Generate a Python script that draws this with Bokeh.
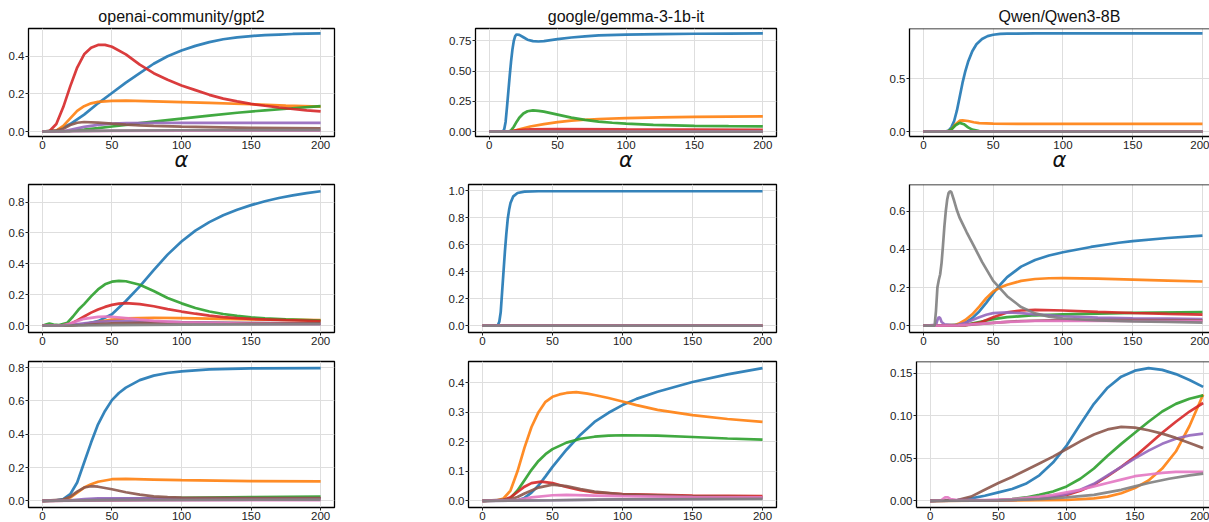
from bokeh.plotting import figure
from bokeh.layouts import column, row
from bokeh.models import FixedTicker, PrintfTickFormatter, Range1d, Span
from bokeh.embed import file_html
from bokeh.resources import INLINE

# ---------------- data (alpha, value) ----------------
COLORS = ["#1f77b4", "#ff7f0e", "#2ca02c", "#d62728", "#9467bd", "#8c564b", "#e377c2", "#7f7f7f"]
SERIES = ["s1", "s2", "s3", "s4", "s5", "s6", "s7", "s8"]
MODELS = ["openai-community/gpt2", "google/gemma-3-1b-it", "Qwen/Qwen3-8B"]
X_TICKS = [0, 50, 100, 150, 200]

# row 1, openai-community/gpt2
gpt2_r1 = {
    "s1": [(0, 0), (10, 0.005), (20, 0.04), (30, 0.09), (40, 0.15), (50, 0.205), (60, 0.26), (70, 0.31), (80, 0.36), (90, 0.40), (100, 0.43), (110, 0.455), (120, 0.475), (130, 0.49), (140, 0.50), (150, 0.507), (160, 0.512), (170, 0.515), (180, 0.518), (190, 0.52), (200, 0.521)],
    "s2": [(0, 0), (10, 0.005), (15, 0.03), (20, 0.07), (25, 0.11), (30, 0.135), (35, 0.15), (40, 0.158), (50, 0.163), (60, 0.164), (80, 0.16), (100, 0.156), (120, 0.152), (150, 0.145), (175, 0.138), (200, 0.133)],
    "s3": [(0, 0), (20, 0.003), (30, 0.01), (40, 0.018), (50, 0.027), (60, 0.036), (70, 0.045), (80, 0.053), (90, 0.061), (100, 0.069), (120, 0.085), (140, 0.1), (160, 0.113), (180, 0.124), (200, 0.135)],
    "s4": [(0, 0), (5, 0.002), (10, 0.04), (15, 0.13), (20, 0.24), (25, 0.34), (30, 0.41), (35, 0.445), (40, 0.46), (45, 0.46), (50, 0.45), (60, 0.41), (70, 0.355), (80, 0.31), (90, 0.275), (100, 0.245), (110, 0.22), (120, 0.195), (130, 0.175), (140, 0.16), (150, 0.147), (160, 0.137), (170, 0.128), (180, 0.12), (190, 0.113), (200, 0.107)],
    "s5": [(0, 0), (15, 0.002), (20, 0.01), (30, 0.025), (40, 0.036), (50, 0.042), (60, 0.045), (100, 0.047), (200, 0.046)],
    "s6": [(0, 0), (10, 0.005), (15, 0.015), (20, 0.035), (25, 0.047), (30, 0.051), (40, 0.048), (50, 0.042), (60, 0.037), (70, 0.033), (80, 0.03), (100, 0.026), (150, 0.02), (200, 0.017)],
    "s7": [(0, 0), (20, 0.002), (50, 0.004), (100, 0.005), (200, 0.005)],
    "s8": [(0, 0), (20, 0.002), (50, 0.005), (100, 0.007), (200, 0.008)],
}
gpt2_r1_yticks = [0.0, 0.2, 0.4]

# row 1, google/gemma-3-1b-it
gemma_r1 = {
    "s1": [(0, 0), (10, 0), (11, 0.02), (12, 0.08), (13, 0.2), (14, 0.33), (15, 0.46), (16, 0.58), (17, 0.68), (18, 0.75), (19, 0.79), (20, 0.803), (22, 0.80), (25, 0.78), (28, 0.76), (32, 0.748), (36, 0.745), (40, 0.748), (50, 0.765), (60, 0.778), (70, 0.788), (80, 0.795), (100, 0.802), (125, 0.806), (150, 0.809), (175, 0.811), (200, 0.812)],
    "s2": [(0, 0), (15, 0), (20, 0.012), (25, 0.028), (30, 0.042), (40, 0.062), (50, 0.078), (60, 0.09), (70, 0.098), (80, 0.104), (100, 0.111), (125, 0.117), (150, 0.121), (175, 0.124), (200, 0.126)],
    "s3": [(0, 0), (14, 0), (16, 0.01), (18, 0.04), (20, 0.08), (22, 0.115), (25, 0.15), (28, 0.168), (32, 0.175), (36, 0.172), (40, 0.165), (50, 0.14), (60, 0.115), (70, 0.097), (80, 0.083), (90, 0.073), (100, 0.066), (120, 0.056), (150, 0.048), (175, 0.045), (200, 0.043)],
    "s4": [(0, 0), (15, 0), (20, 0.01), (30, 0.018), (50, 0.02), (100, 0.018), (200, 0.015)],
    "s5": [(0, 0), (200, 0.002)],
    "s6": [(0, 0), (200, 0.001)],
    "s7": [(0, 0), (200, 0.001)],
    "s8": [(0, 0), (200, 0.0)],
}
gemma_r1_yticks = [0.0, 0.25, 0.5, 0.75]

# row 1, Qwen/Qwen3-8B
qwen_r1 = {
    "s1": [(0, 0), (16, 0), (18, 0.01), (20, 0.04), (22, 0.1), (24, 0.2), (26, 0.33), (28, 0.46), (30, 0.57), (32, 0.66), (35, 0.76), (38, 0.825), (42, 0.875), (46, 0.902), (50, 0.915), (55, 0.923), (60, 0.926), (80, 0.928), (200, 0.928)],
    "s2": [(0, 0), (17, 0), (20, 0.02), (23, 0.07), (26, 0.103), (28, 0.106), (32, 0.1), (36, 0.088), (40, 0.08), (50, 0.075), (70, 0.073), (100, 0.072), (200, 0.072)],
    "s3": [(0, 0), (17, 0), (20, 0.02), (23, 0.06), (26, 0.082), (29, 0.07), (32, 0.04), (35, 0.018), (40, 0.005), (50, 0.001), (200, 0)],
    "s4": [(0, 0), (200, 0)],
    "s5": [(0, 0), (200, 0)],
    "s6": [(0, 0), (200, 0)],
    "s7": [(0, 0), (200, 0)],
    "s8": [(0, 0), (200, 0)],
}
qwen_r1_yticks = [0.0, 0.5]

# row 2, openai-community/gpt2
gpt2_r2 = {
    "s1": [(0, 0), (20, 0.002), (30, 0.01), (40, 0.03), (50, 0.075), (60, 0.16), (70, 0.255), (80, 0.36), (90, 0.46), (100, 0.545), (110, 0.615), (120, 0.67), (130, 0.715), (140, 0.75), (150, 0.78), (160, 0.805), (170, 0.826), (180, 0.843), (190, 0.858), (200, 0.87)],
    "s2": [(0, 0), (20, 0.003), (30, 0.01), (40, 0.025), (50, 0.04), (60, 0.048), (80, 0.052), (100, 0.05), (150, 0.042), (200, 0.036)],
    "s3": [(0, 0), (3, 0.01), (5, 0.015), (8, 0.008), (12, 0.005), (18, 0.02), (22, 0.06), (26, 0.105), (30, 0.14), (35, 0.19), (40, 0.235), (45, 0.268), (50, 0.285), (55, 0.29), (60, 0.288), (70, 0.265), (80, 0.225), (90, 0.18), (100, 0.145), (110, 0.115), (120, 0.092), (130, 0.076), (140, 0.064), (150, 0.055), (160, 0.048), (175, 0.041), (200, 0.034)],
    "s4": [(0, 0), (15, 0.003), (20, 0.012), (25, 0.035), (30, 0.06), (35, 0.085), (40, 0.105), (45, 0.122), (50, 0.135), (55, 0.143), (60, 0.146), (70, 0.14), (80, 0.126), (90, 0.108), (100, 0.092), (110, 0.078), (120, 0.066), (130, 0.056), (140, 0.049), (150, 0.044), (175, 0.036), (200, 0.031)],
    "s5": [(0, 0), (20, 0.005), (30, 0.015), (40, 0.025), (50, 0.03), (60, 0.03), (80, 0.027), (100, 0.023), (150, 0.017), (200, 0.014)],
    "s6": [(0, 0), (30, 0.005), (50, 0.015), (80, 0.02), (120, 0.018), (200, 0.015)],
    "s7": [(0, 0), (15, 0.003), (20, 0.015), (25, 0.03), (30, 0.045), (40, 0.058), (45, 0.06), (50, 0.058), (60, 0.05), (70, 0.04), (80, 0.032), (100, 0.022), (150, 0.012), (200, 0.01)],
    "s8": [(0, 0), (50, 0.004), (100, 0.008), (200, 0.01)],
}
gpt2_r2_yticks = [0.0, 0.2, 0.4, 0.6, 0.8]

# row 2, google/gemma-3-1b-it
gemma_r2 = {
    "s1": [(0, 0), (10, 0), (11, 0.005), (12, 0.03), (13, 0.1), (14, 0.25), (15, 0.4), (16, 0.55), (17, 0.68), (18, 0.79), (19, 0.86), (20, 0.91), (22, 0.96), (25, 0.985), (30, 0.995), (40, 0.998), (200, 0.998)],
    "s2": [(0, 0), (200, 0)],
    "s3": [(0, 0), (200, 0)],
    "s4": [(0, 0), (200, 0)],
    "s5": [(0, 0), (200, 0)],
    "s6": [(0, 0), (200, 0)],
    "s7": [(0, 0), (200, 0)],
    "s8": [(0, 0), (200, 0)],
}
gemma_r2_yticks = [0.0, 0.2, 0.4, 0.6, 0.8, 1.0]

# row 2, Qwen/Qwen3-8B
qwen_r2 = {
    "s1": [(0, 0), (25, 0.003), (30, 0.015), (35, 0.04), (40, 0.075), (45, 0.12), (50, 0.17), (55, 0.215), (60, 0.255), (70, 0.31), (80, 0.345), (90, 0.368), (100, 0.385), (120, 0.413), (140, 0.435), (150, 0.444), (175, 0.46), (200, 0.472)],
    "s2": [(0, 0), (22, 0.003), (25, 0.01), (30, 0.03), (35, 0.06), (40, 0.1), (45, 0.145), (50, 0.18), (55, 0.2), (60, 0.215), (70, 0.235), (80, 0.245), (90, 0.249), (100, 0.25), (125, 0.247), (150, 0.242), (175, 0.237), (200, 0.232)],
    "s3": [(0, 0), (30, 0.005), (40, 0.02), (50, 0.035), (60, 0.045), (80, 0.055), (100, 0.06), (150, 0.068), (200, 0.072)],
    "s4": [(0, 0), (30, 0.003), (40, 0.015), (50, 0.045), (60, 0.07), (70, 0.08), (80, 0.083), (100, 0.08), (125, 0.073), (150, 0.067), (175, 0.062), (200, 0.058)],
    "s5": [(0, 0), (9, 0.005), (10, 0.03), (11, 0.045), (12, 0.04), (13, 0.02), (15, 0.008), (20, 0.004), (25, 0.005), (30, 0.015), (35, 0.03), (40, 0.045), (45, 0.058), (50, 0.066), (60, 0.07), (70, 0.066), (80, 0.06), (100, 0.05), (125, 0.043), (150, 0.039), (175, 0.037), (200, 0.035)],
    "s6": [(0, 0), (30, 0.003), (50, 0.015), (70, 0.025), (100, 0.03), (150, 0.03), (200, 0.028)],
    "s7": [(0, 0), (25, 0.002), (40, 0.01), (60, 0.02), (80, 0.025), (100, 0.026), (150, 0.025), (200, 0.024)],
    "s8": [(0, 0), (8, 0), (9, 0.08), (10, 0.2), (11, 0.24), (12, 0.27), (13, 0.33), (14, 0.42), (15, 0.52), (16, 0.6), (17, 0.66), (18, 0.695), (19, 0.705), (20, 0.7), (22, 0.655), (24, 0.605), (26, 0.565), (28, 0.535), (31, 0.49), (36, 0.42), (42, 0.335), (50, 0.235), (60, 0.155), (70, 0.098), (80, 0.065), (90, 0.048), (100, 0.038), (125, 0.028), (150, 0.023), (175, 0.02), (200, 0.017)],
}
qwen_r2_yticks = [0.0, 0.2, 0.4, 0.6]

# row 3, openai-community/gpt2
gpt2_r3 = {
    "s1": [(0, 0), (10, 0.003), (15, 0.01), (20, 0.04), (25, 0.11), (30, 0.23), (35, 0.35), (40, 0.46), (45, 0.54), (50, 0.605), (55, 0.648), (60, 0.68), (70, 0.725), (80, 0.752), (90, 0.768), (100, 0.778), (120, 0.789), (150, 0.795), (200, 0.797)],
    "s2": [(0, 0), (15, 0.005), (20, 0.02), (25, 0.05), (30, 0.08), (35, 0.1), (40, 0.115), (50, 0.13), (60, 0.132), (80, 0.128), (100, 0.124), (150, 0.119), (200, 0.117)],
    "s3": [(0, 0), (30, 0.005), (60, 0.012), (100, 0.018), (150, 0.022), (200, 0.026)],
    "s4": [(0, 0), (50, 0.005), (100, 0.01), (200, 0.015)],
    "s5": [(0, 0), (20, 0.003), (30, 0.01), (40, 0.015), (200, 0.015)],
    "s6": [(0, 0), (15, 0.008), (20, 0.025), (25, 0.055), (30, 0.08), (35, 0.088), (40, 0.085), (50, 0.07), (60, 0.052), (70, 0.037), (80, 0.027), (90, 0.022), (100, 0.02), (150, 0.017), (200, 0.016)],
    "s7": [(0, 0), (50, 0.003), (200, 0.005)],
    "s8": [(0, 0), (50, 0.004), (200, 0.008)],
}
gpt2_r3_yticks = [0.0, 0.2, 0.4, 0.6, 0.8]

# row 3, google/gemma-3-1b-it
gemma_r3 = {
    "s1": [(0, 0), (25, 0.002), (30, 0.01), (35, 0.028), (40, 0.052), (45, 0.083), (50, 0.115), (60, 0.173), (70, 0.224), (80, 0.267), (90, 0.298), (100, 0.324), (110, 0.345), (125, 0.369), (150, 0.402), (175, 0.428), (200, 0.449)],
    "s2": [(0, 0), (10, 0.001), (15, 0.008), (20, 0.035), (25, 0.1), (30, 0.18), (35, 0.25), (40, 0.3), (45, 0.335), (50, 0.352), (55, 0.36), (60, 0.365), (67, 0.368), (75, 0.363), (80, 0.358), (90, 0.348), (100, 0.336), (110, 0.324), (125, 0.308), (150, 0.29), (175, 0.277), (200, 0.267)],
    "s3": [(0, 0), (15, 0.002), (20, 0.01), (25, 0.035), (30, 0.07), (35, 0.105), (40, 0.135), (45, 0.158), (50, 0.175), (60, 0.197), (70, 0.21), (80, 0.217), (90, 0.221), (100, 0.222), (125, 0.221), (150, 0.216), (175, 0.211), (200, 0.207)],
    "s4": [(0, 0), (15, 0.003), (20, 0.012), (25, 0.03), (30, 0.048), (35, 0.06), (42, 0.065), (50, 0.06), (60, 0.047), (70, 0.036), (80, 0.029), (100, 0.023), (150, 0.018), (200, 0.016)],
    "s5": [(0, 0), (50, 0.002), (100, 0.005), (200, 0.008)],
    "s6": [(0, 0), (20, 0.005), (25, 0.013), (30, 0.025), (40, 0.045), (50, 0.055), (60, 0.05), (70, 0.04), (80, 0.031), (100, 0.022), (150, 0.015), (200, 0.012)],
    "s7": [(0, 0), (25, 0.003), (35, 0.012), (50, 0.019), (60, 0.02), (80, 0.018), (100, 0.016), (150, 0.013), (200, 0.012)],
    "s8": [(0, 0), (50, 0.002), (100, 0.005), (200, 0.007)],
}
gemma_r3_yticks = [0.0, 0.1, 0.2, 0.3, 0.4]

# row 3, Qwen/Qwen3-8B
qwen_r3 = {
    "s1": [(0, 0), (10, 0.0005), (20, 0.001), (30, 0.003), (40, 0.006), (50, 0.01), (60, 0.014), (70, 0.02), (80, 0.03), (90, 0.045), (100, 0.065), (110, 0.09), (120, 0.114), (130, 0.133), (140, 0.146), (150, 0.153), (160, 0.156), (170, 0.154), (180, 0.149), (190, 0.142), (200, 0.134)],
    "s2": [(0, 0), (100, 0.001), (120, 0.003), (130, 0.005), (140, 0.009), (150, 0.015), (160, 0.024), (170, 0.038), (180, 0.058), (190, 0.088), (200, 0.125)],
    "s3": [(0, 0), (50, 0.001), (60, 0.002), (70, 0.004), (80, 0.007), (90, 0.011), (100, 0.017), (110, 0.026), (120, 0.038), (130, 0.053), (140, 0.067), (150, 0.08), (160, 0.093), (170, 0.105), (180, 0.114), (190, 0.12), (200, 0.124)],
    "s4": [(0, 0), (60, 0.001), (80, 0.003), (90, 0.005), (100, 0.007), (110, 0.012), (120, 0.019), (130, 0.029), (140, 0.04), (150, 0.052), (160, 0.066), (170, 0.08), (180, 0.093), (190, 0.105), (200, 0.115)],
    "s5": [(0, 0), (60, 0.001), (80, 0.003), (90, 0.005), (100, 0.008), (110, 0.013), (120, 0.02), (130, 0.03), (140, 0.04), (150, 0.05), (160, 0.059), (170, 0.067), (180, 0.073), (190, 0.077), (200, 0.079)],
    "s6": [(0, 0), (20, 0.001), (30, 0.005), (40, 0.013), (50, 0.021), (60, 0.028), (70, 0.036), (80, 0.044), (90, 0.052), (100, 0.061), (110, 0.07), (120, 0.078), (130, 0.084), (140, 0.087), (150, 0.086), (160, 0.083), (170, 0.079), (180, 0.074), (190, 0.068), (200, 0.062)],
    "s7": [(0, 0), (8, 0.0005), (11, 0.004), (13, 0.004), (15, 0.002), (20, 0.001), (40, 0.001), (60, 0.002), (80, 0.005), (90, 0.007), (100, 0.01), (110, 0.013), (120, 0.017), (130, 0.021), (140, 0.025), (150, 0.029), (160, 0.031), (170, 0.033), (180, 0.034), (200, 0.034)],
    "s8": [(0, 0), (50, 0.0005), (80, 0.002), (100, 0.004), (120, 0.007), (140, 0.013), (150, 0.017), (160, 0.021), (175, 0.026), (190, 0.03), (200, 0.032)],
}
qwen_r3_yticks = [0.0, 0.05, 0.1, 0.15]

# ---------------- drawing ----------------
FONT = "Liberation Sans"
INK = "#222222"


def make(data, yticks, yfmt, width, height, mbl, mbr, mbt, mbb, x_end,
         title=None, xlabel=None, open_right=False):
    vals = [v for s in SERIES for (_, v) in data[s]]
    lo, hi = min(vals), max(vals)
    pad = 0.05 * (hi - lo)
    p = figure(width=width, height=height, output_backend="svg", toolbar_location=None,
               x_range=Range1d(-10, x_end), y_range=Range1d(lo - pad, hi + pad),
               min_border_left=mbl, min_border_right=mbr,
               min_border_top=mbt, min_border_bottom=mbb)
    p.background_fill_color = "white"
    p.border_fill_color = "white"
    if title:
        p.title.text = title
        p.title.align = "center"
        p.title.text_font = FONT
        p.title.text_font_size = "16px"
        p.title.text_font_style = "normal"
        p.title.text_color = "#111111"
        p.title.standoff = 8
    for ax in (p.xaxis, p.yaxis):
        ax.major_label_text_font = FONT
        ax.major_label_text_font_size = "11.5px"
        ax.major_label_text_color = INK
        ax.major_tick_out = 3
        ax.major_tick_in = 0
        ax.major_tick_line_color = INK
        ax.minor_tick_line_color = None
        ax.major_label_standoff = 1
        ax.axis_line_color = None
    p.xaxis.ticker = FixedTicker(ticks=X_TICKS)
    p.yaxis.ticker = FixedTicker(ticks=yticks)
    p.yaxis.formatter = PrintfTickFormatter(format=yfmt)
    if xlabel:
        p.xaxis.axis_label = xlabel
        p.xaxis.axis_label_text_font = "DejaVu Sans"
        p.xaxis.axis_label_text_font_size = "21px"
        p.xaxis.axis_label_text_font_style = "italic"
        p.xaxis.axis_label_text_color = "#111111"
        p.xaxis.axis_label_standoff = -4
    p.xgrid.grid_line_color = "#dedede"
    p.ygrid.grid_line_color = "#dedede"
    if open_right:
        p.outline_line_color = None
        for ax in (p.xaxis, p.yaxis):
            ax.axis_line_color = "black"
            ax.axis_line_width = 1.3
        p.add_layout(Span(location=hi + pad, dimension="width",
                          line_color="black", line_width=1.3))
    else:
        p.outline_line_color = "black"
        p.outline_line_width = 1.3
        p.outline_line_alpha = 1.0
    for s, c in zip(SERIES, COLORS):
        pts = data[s]
        p.line([a for a, _ in pts], [v for _, v in pts], line_color=c,
               line_width=2.7, line_alpha=0.9)
    return p


A = "\u03b1"
r1 = row(
    make(gpt2_r1, gpt2_r1_yticks, "%.1f", 400, 180, 28, 66, 28, 44, 210, MODELS[0], A),
    make(gemma_r1, gemma_r1_yticks, "%.2f", 440, 180, 75, 64, 28, 44, 210, MODELS[1], A),
    make(qwen_r1, qwen_r1_yticks, "%.1f", 369, 180, 69, 0, 28, 44, 205.05, MODELS[2], A, True),
)
r2 = row(
    make(gpt2_r2, gpt2_r2_yticks, "%.1f", 400, 174, 28, 66, 4, 22, 210),
    make(gemma_r2, gemma_r2_yticks, "%.1f", 440, 174, 68, 64, 4, 22, 210),
    make(qwen_r2, qwen_r2_yticks, "%.1f", 369, 174, 69, 0, 4, 22, 205.05, open_right=True),
)
r3 = row(
    make(gpt2_r3, gpt2_r3_yticks, "%.1f", 400, 168, 28, 66, 7, 14, 210),
    make(gemma_r3, gemma_r3_yticks, "%.1f", 440, 168, 68, 64, 7, 14, 210),
    make(qwen_r3, qwen_r3_yticks, "%.2f", 369, 168, 76, 0, 7, 14, 204.65, open_right=True),
)
layout = column(r1, r2, r3)

open("out.html", "w").write(file_html(layout, INLINE))
